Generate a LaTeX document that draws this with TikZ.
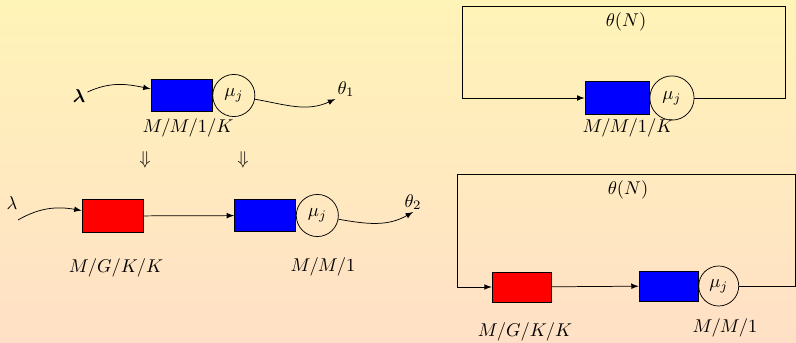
\documentclass[tikz,border=0pt]{standalone}
\usepackage{amsmath}
\usepackage{tikz}
\usetikzlibrary{positioning, arrows.meta}
\definecolor{bgtop}{RGB}{255,244,184}
\definecolor{bgbottom}{RGB}{255,224,198}
\tikzset{
    buffer/.style={
        draw=black,
        minimum width=1.16cm,
        minimum height=0.62cm,
        inner sep=0pt
    },
    server/.style={
        circle,
        draw=black,
        minimum size=0.8cm,
        inner sep=0pt
    },
    flowlabel/.style={
        inner sep=1pt
    }
}

\begin{document}
\begin{tikzpicture}[x=0.019cm, y=-0.019cm, >=latex]
            % Background :
            \shade [top color=bgtop, bottom color=bgbottom]
                (0,0) rectangle (796,343);
            \useasboundingbox (0,0) rectangle (796,343);

            % Single queue
            \node (lamA) [flowlabel] at (79,96) {$\boldsymbol{\lambda}$};
            \node (bufA) [buffer, fill=blue] at (181.5,95.5) {};
            \node (srvA) [server, right = 0pt of bufA] {$\mu_j$};
            \node (thA) [flowlabel] at (346,89) {$\theta_1$};
            \node (lblA) at (188,128) {$M/M/1/K$};
            \node (dnA) at (145,160) {$\Downarrow$};
            \node (dnB) at (243,160) {$\Downarrow$};

            % Decomposed queue
            \node (lamB) [flowlabel] at (12,203) {$\lambda$};
            \coordinate (inB) at (18,220);
            \node (bufB) [buffer, fill=red] at (112.5,216) {};
            \node (bufC) [buffer, fill=blue] at (265,215.5) {};
            \node (srvC) [server, right = 0pt of bufC] {$\mu_j$};
            \node (thB) [flowlabel] at (413,202) {$\theta_2$};
            \node (lblB) at (116,268) {$M/G/K/K$};
            \node (lblC) at (323,267) {$M/M/1$};

            \path [->]
                (lamA) edge [out=25, in=168] (bufA)
                (srvA) edge [out=-10, in=205] (thA.south west)
                (inB) edge [out=30, in=170] (bufB)
                (bufB) edge (bufC)
                (srvC) edge [out=-10, in=210] (thB.south)
            ;

            % Closed single queue
            \node (bufD) [buffer, fill=blue, minimum width=1.22cm] at (617,98) {};
            \node (srvD) [server, right = 0pt of bufD, minimum size=0.84cm] {$\mu_j$};
            \node (thD) at (626,22) {$\theta(N)$};
            \node (lblD) at (628,128) {$M/M/1/K$};
            \coordinate (cornD) at (785,6);
            \coordinate (cornDl) at (462,6);
            \draw [->] (srvD) -- (srvD -| cornD) -- (cornD) -- (cornDl) |- (bufD);

            % Closed decomposed queue
            \node (bufE) [buffer, fill=red, minimum width=1.12cm, minimum height=0.57cm] at (521.5,287) {};
            \node (bufF) [buffer, fill=blue, minimum width=1.12cm, minimum height=0.57cm] at (668.5,286) {};
            \node (srvF) [server, right = 0pt of bufF, minimum size=0.76cm] {$\mu_j$};
            \node (thE) at (628,190) {$\theta(N)$};
            \node (lblE) at (525,332) {$M/G/K/K$};
            \node (lblF) at (725,328) {$M/M/1$};
            \coordinate (cornE) at (795,174);
            \coordinate (cornEl) at (457,174);
            \draw [->] (srvF) -- (srvF -| cornE) -- (cornE) -- (cornEl) |- (bufE);
            \draw [->] (bufE) -- (bufF);
        \end{tikzpicture}
\end{document}
